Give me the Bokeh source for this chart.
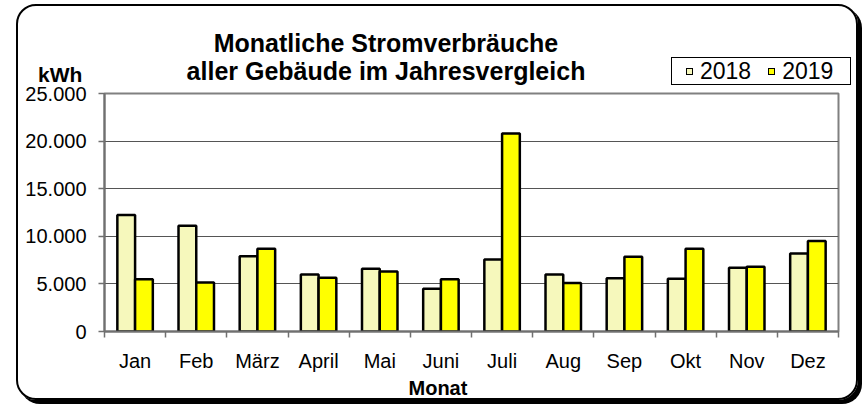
from bokeh.plotting import figure
from bokeh.layouts import column
from bokeh.models import (FactorRange, Range1d, LinearAxis, CategoricalAxis, FixedTicker,
                          Title, ColumnDataSource, Div)
from bokeh.transform import dodge
from bokeh.embed import file_html
from bokeh.resources import INLINE

# ---- data ----
months = ["Jan", "Feb", "März", "April", "Mai", "Juni", "Juli", "Aug", "Sep", "Okt", "Nov", "Dez"]
kwh_2018 = [12250, 11100, 7900, 6000, 6600, 4500, 7550, 6000, 5600, 5550, 6700, 8200]
kwh_2019 = [5500, 5150, 8700, 5650, 6300, 5500, 20800, 5100, 7850, 8700, 6800, 9500]
series_names = ["2018", "2019"]
y_ticks = [0, 5000, 10000, 15000, 20000, 25000]
y_tick_labels = ["0", "5.000", "10.000", "15.000", "20.000", "25.000"]
title_lines = ["Monatliche Stromverbräuche", "aller Gebäude im Jahresvergleich"]
y_unit = "kWh"
x_title = "Monat"

FONT = "Liberation Sans"
C2018 = "#F6F8BC"
C2019 = "#FFFF00"
colors = [C2018, C2019]
W = 838

# ---------- header: title, unit and legend as real text ----------
def swatch(color, ml):
    return (f'<span style="display:inline-block;width:7px;height:7px;border:1.5px solid #000;'
            f'background:{color};margin-left:{ml}px;margin-right:7px;"></span>')

legend_html = "".join(
    swatch(c, 0 if i == 0 else 17) + f'<span style="line-height:26px">{name}</span>'
    for i, (name, c) in enumerate(zip(series_names, colors)))

header_html = f"""<div style="position:relative;width:{W}px;height:79px;font-family:'{FONT}';color:#000;">
  <div style="position:absolute;left:0;top:23px;width:736px;text-align:center;
              font-weight:bold;font-size:25px;line-height:28px;white-space:nowrap;">
    {title_lines[0]}<br>{title_lines[1]}
  </div>
  <div style="position:absolute;left:20px;top:58px;font-weight:bold;font-size:21px;
              line-height:21px;white-space:nowrap;">{y_unit}</div>
  <div style="position:absolute;left:653px;top:51px;border:1px solid #000;background:#fff;
              display:flex;align-items:center;padding-left:14px;box-sizing:border-box;
              width:180px;height:28px;font-size:23px;white-space:nowrap;">
    {legend_html}
  </div>
</div>"""
header = Div(text=header_html, width=W, height=79, margin=0)

# ---------- main chart ----------
src = ColumnDataSource(dict(month=months, y2018=kwh_2018, y2019=kwh_2019))

p = figure(x_range=FactorRange(*months), y_range=Range1d(y_ticks[0], y_ticks[-1]),
           width=W, height=313, output_backend="svg", toolbar_location=None,
           x_axis_location=None, y_axis_location="left", title_location=None,
           min_border_left=86, min_border_right=18, min_border_top=8, min_border_bottom=60)
p.margin = 0
p.border_fill_color = None
p.background_fill_color = "white"
p.outline_line_color = "#808080"
p.outline_line_width = 2

yt = FixedTicker(ticks=y_ticks)
ya = p.yaxis[0]
ya.ticker = yt
ya.major_label_overrides = {t: l for t, l in zip(y_ticks, y_tick_labels)}
ya.major_label_text_font = FONT
ya.major_label_text_font_size = "20px"
ya.major_label_text_color = "black"
ya.major_label_standoff = 12
ya.major_tick_out = 6
ya.major_tick_in = 0
ya.minor_tick_line_color = None
ya.axis_line_color = "#707070"
ya.axis_line_width = 2
ya.major_tick_line_color = "#707070"
ya.major_tick_line_width = 1.5

p.xgrid.visible = False
p.ygrid.ticker = yt
p.ygrid.grid_line_color = "#555555"
p.ygrid.grid_line_width = 1.2

r18 = p.vbar(x=dodge("month", -0.145, range=p.x_range), top="y2018", width=0.29, source=src,
             fill_color=C2018, line_color="black", line_width=2.5, legend_label=series_names[0])
r19 = p.vbar(x=dodge("month", 0.145, range=p.x_range), top="y2019", width=0.29, source=src,
             fill_color=C2019, line_color="black", line_width=2.5, legend_label=series_names[1])
p.legend.visible = False  # legend is drawn in the header (outside the plot frame)

boundaries = list(range(len(months) + 1))
tick_axis = LinearAxis(ticker=FixedTicker(ticks=boundaries),
                       major_label_overrides={i: "" for i in boundaries},
                       major_label_text_font_size="1px", major_label_standoff=0,
                       major_tick_out=6, major_tick_in=0, minor_tick_line_color=None,
                       axis_line_color="#707070", axis_line_width=2,
                       major_tick_line_color="#707070", major_tick_line_width=1.5)
p.add_layout(tick_axis, "below")
cat_axis = CategoricalAxis(major_tick_line_color=None, axis_line_color=None,
                           major_label_text_font=FONT, major_label_text_font_size="20px",
                           major_label_text_color="black", major_label_standoff=6)
p.add_layout(cat_axis, "below")
p.add_layout(Title(text=x_title, align="left", offset=304, standoff=0, text_font=FONT,
                   text_font_size="20px", text_font_style="bold", text_color="black"), "below")

lay = column(header, p, spacing=0,
             styles={"margin-left": "16px", "margin-top": "4px", "border": "2px solid #000",
                     "border-radius": "20px", "box-shadow": "4px 4px 0 0 #000"})

open("out.html", "w").write(file_html(lay, INLINE))
